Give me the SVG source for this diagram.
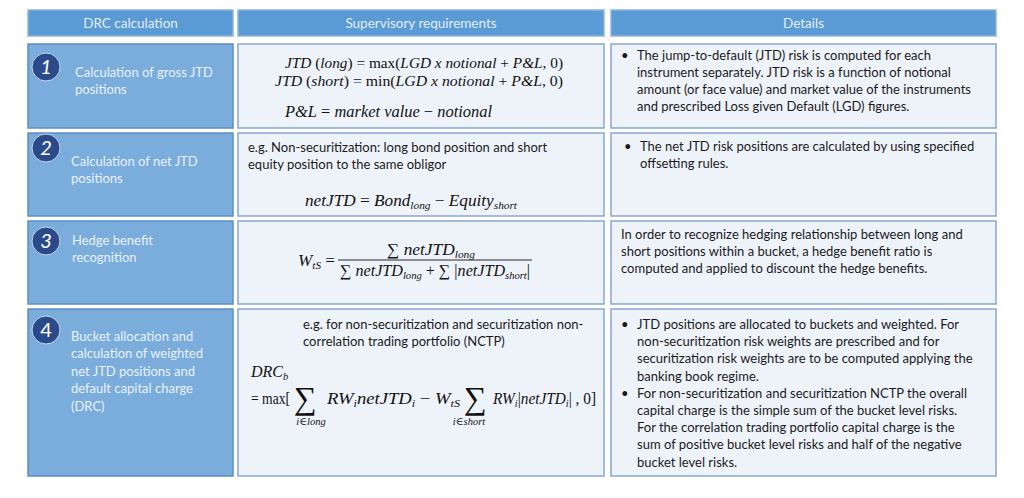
<svg xmlns="http://www.w3.org/2000/svg" width="1024" height="498" viewBox="0 0 1024 498">
<style>
.hdr{fill:#5b9bd5;stroke:#8fb5de;stroke-width:1.5}
.lc{fill:#7aaddc;stroke:#5d8fc4;stroke-width:1.5}
.wc{fill:#eef3fa;stroke:#88a8d0;stroke-width:1.5}
.ht{font-family:Lato,"Liberation Sans",sans-serif;font-size:13.5px;fill:#e2ecf7}
.lt{font-family:Lato,"Liberation Sans",sans-serif;font-size:13px;fill:#e8f0fa}
.bt{font-family:Lato,"Liberation Sans",sans-serif;font-size:13px;fill:#1a1a1a}
.m{font-family:"Liberation Serif","DejaVu Serif",serif;font-size:16px;fill:#111}
.m15{font-size:15px}
.i{font-style:italic}
.sub{font-size:10.5px}
.circ{fill:#2b4a8b;stroke:#c7d6ea;stroke-width:1}
.num{font-family:Lato,"Liberation Sans",sans-serif;font-size:20px;fill:#ffffff;text-anchor:middle}
</style>
<g id="header">
<rect class="hdr" x="28" y="10" width="205" height="26"/>
<text class="ht" x="130.5" y="27.5" text-anchor="middle">DRC calculation</text>
<rect class="hdr" x="238" y="10" width="366" height="26"/>
<text class="ht" x="421" y="27.5" text-anchor="middle">Supervisory requirements</text>
<rect class="hdr" x="611" y="10" width="385" height="26"/>
<text class="ht" x="803.5" y="27.5" text-anchor="middle">Details</text>
</g>
<g id="row1">
<rect class="lc" x="28" y="44" width="205" height="84"/>
<circle class="circ" cx="46" cy="67" r="14"/>
<text class="num i" x="46" y="74">1</text>
<text class="lt" x="75" y="77">Calculation of gross JTD</text>
<text class="lt" x="75" y="94">positions</text>
<rect class="wc" x="238" y="44" width="366" height="84"/>
<text class="m m15" x="285" y="68" textLength="278" lengthAdjust="spacingAndGlyphs"><tspan class="i">JTD</tspan> (<tspan class="i">long</tspan>) = max(<tspan class="i">LGD x notional</tspan> + <tspan class="i">P&amp;L</tspan>, 0)</text>
<text class="m m15" x="275" y="86" textLength="288" lengthAdjust="spacingAndGlyphs"><tspan class="i">JTD</tspan> (<tspan class="i">short</tspan>) = min(<tspan class="i">LGD x notional</tspan> + <tspan class="i">P&amp;L</tspan>, 0)</text>
<text class="m" x="285" y="117" textLength="207" lengthAdjust="spacingAndGlyphs"><tspan class="i">P&amp;L</tspan> = <tspan class="i">market value</tspan>  − <tspan class="i">notional</tspan></text>
<rect class="wc" x="611" y="44" width="385" height="84"/>
<text class="bt" x="621" y="60">•</text>
<text class="bt" x="637" y="60">The jump-to-default (JTD) risk is computed for each</text>
<text class="bt" x="637" y="77">instrument separately. JTD risk is a function of notional</text>
<text class="bt" x="637" y="94">amount (or face value) and market value of the instruments</text>
<text class="bt" x="637" y="111">and prescribed Loss given Default (LGD) figures.</text>
</g>
<g id="row2">
<rect class="lc" x="28" y="133" width="205" height="83"/>
<circle class="circ" cx="46" cy="148" r="14"/>
<text class="num i" x="46" y="155">2</text>
<text class="lt" x="71" y="166">Calculation of net JTD</text>
<text class="lt" x="71" y="183">positions</text>
<rect class="wc" x="238" y="133" width="366" height="83"/>
<text class="bt" x="248" y="152">e.g. Non-securitization: long bond position and short</text>
<text class="bt" x="248" y="169">equity position to the same obligor</text>
<text class="m" x="305" y="206" textLength="212" lengthAdjust="spacingAndGlyphs"><tspan class="i">netJTD</tspan> =  <tspan class="i">Bond</tspan><tspan class="i sub" dy="3">long</tspan><tspan dy="-3"> − </tspan><tspan class="i">Equity</tspan><tspan class="i sub" dy="3">short</tspan></text>
<rect class="wc" x="611" y="133" width="385" height="83"/>
<text class="bt" x="624" y="151">•</text>
<text class="bt" x="640" y="151">The net JTD risk positions are calculated by using specified</text>
<text class="bt" x="640" y="168">offsetting rules.</text>
</g>
<g id="row3">
<rect class="lc" x="28" y="221" width="205" height="83"/>
<circle class="circ" cx="46" cy="241" r="14"/>
<text class="num i" x="46" y="248">3</text>
<text class="lt" x="72" y="245">Hedge benefit</text>
<text class="lt" x="72" y="262">recognition</text>
<rect class="wc" x="238" y="221" width="366" height="83"/>
<text class="m" x="298" y="266" textLength="37" lengthAdjust="spacingAndGlyphs"><tspan class="i">W</tspan><tspan class="i sub" dy="3">tS</tspan><tspan dy="-3"> =</tspan></text>
<text class="m" x="387" y="255" textLength="88" lengthAdjust="spacingAndGlyphs">∑ <tspan class="i">netJTD</tspan><tspan class="i sub" dy="3">long</tspan></text>
<line x1="338" y1="260" x2="532" y2="260" stroke="#111" stroke-width="0.9"/>
<text class="m" x="340" y="276" textLength="190" lengthAdjust="spacingAndGlyphs">∑ <tspan class="i">netJTD</tspan><tspan class="i sub" dy="3">long</tspan><tspan dy="-3"> + ∑ |</tspan><tspan class="i">netJTD</tspan><tspan class="i sub" dy="3">short</tspan><tspan dy="-3">|</tspan></text>
<rect class="wc" x="611" y="221" width="385" height="83"/>
<text class="bt" x="621" y="239">In order to recognize hedging relationship between long and</text>
<text class="bt" x="621" y="256">short positions within a bucket, a hedge benefit ratio is</text>
<text class="bt" x="621" y="273">computed and applied to discount the hedge benefits.</text>
</g>
<g id="row4">
<rect class="lc" x="28" y="309" width="205" height="167"/>
<circle class="circ" cx="46" cy="330" r="14"/>
<text class="num" x="46" y="337">4</text>
<text class="lt" x="71" y="341">Bucket allocation and</text>
<text class="lt" x="71" y="358">calculation of weighted</text>
<text class="lt" x="71" y="376">net JTD positions and</text>
<text class="lt" x="71" y="393">default capital charge</text>
<text class="lt" x="71" y="411">(DRC)</text>
<rect class="wc" x="238" y="309" width="366" height="167"/>
<text class="bt" x="303" y="329">e.g. for non-securitization and securitization non-</text>
<text class="bt" x="303" y="346">correlation trading portfolio (NCTP)</text>
<text class="m" x="251" y="377"><tspan class="i">DRC</tspan><tspan class="i sub" dy="3">b</tspan></text>
<text class="m" x="251" y="404" textLength="39" lengthAdjust="spacingAndGlyphs">= max[</text>
<text class="m" x="294" y="409" style="font-size:32px">∑</text>
<text class="m i sub" x="311" y="425" text-anchor="middle">i∈long</text>
<text class="m" x="327" y="404" textLength="133" lengthAdjust="spacingAndGlyphs"><tspan class="i">RW</tspan><tspan class="i sub" dy="3">i</tspan><tspan class="i" dy="-3">netJTD</tspan><tspan class="i sub" dy="3">i</tspan><tspan dy="-3"> − </tspan><tspan class="i">W</tspan><tspan class="i sub" dy="3">tS</tspan></text>
<text class="m" x="464" y="409" style="font-size:32px">∑</text>
<text class="m i sub" x="469" y="425" text-anchor="middle">i∈short</text>
<text class="m" x="493" y="404" textLength="103" lengthAdjust="spacingAndGlyphs"><tspan class="i">RW</tspan><tspan class="i sub" dy="3">i</tspan><tspan dy="-3">|</tspan><tspan class="i">netJTD</tspan><tspan class="i sub" dy="3">i</tspan><tspan dy="-3">| , 0]</tspan></text>
<rect class="wc" x="611" y="309" width="385" height="167"/>
<text class="bt" x="621" y="329">•</text>
<text class="bt" x="637" y="329">JTD positions are allocated to buckets and weighted. For</text>
<text class="bt" x="637" y="346">non-securitization risk weights are prescribed and for</text>
<text class="bt" x="637" y="363">securitization risk weights are to be computed applying the</text>
<text class="bt" x="637" y="381">banking book regime.</text>
<text class="bt" x="621" y="398">•</text>
<text class="bt" x="637" y="398">For non-securitization and securitization NCTP the overall</text>
<text class="bt" x="637" y="415">capital charge is the simple sum of the bucket level risks.</text>
<text class="bt" x="637" y="432">For the correlation trading portfolio capital charge is the</text>
<text class="bt" x="637" y="449">sum of positive bucket level risks and half of the negative</text>
<text class="bt" x="637" y="467">bucket level risks.</text>
</g>
</svg>
